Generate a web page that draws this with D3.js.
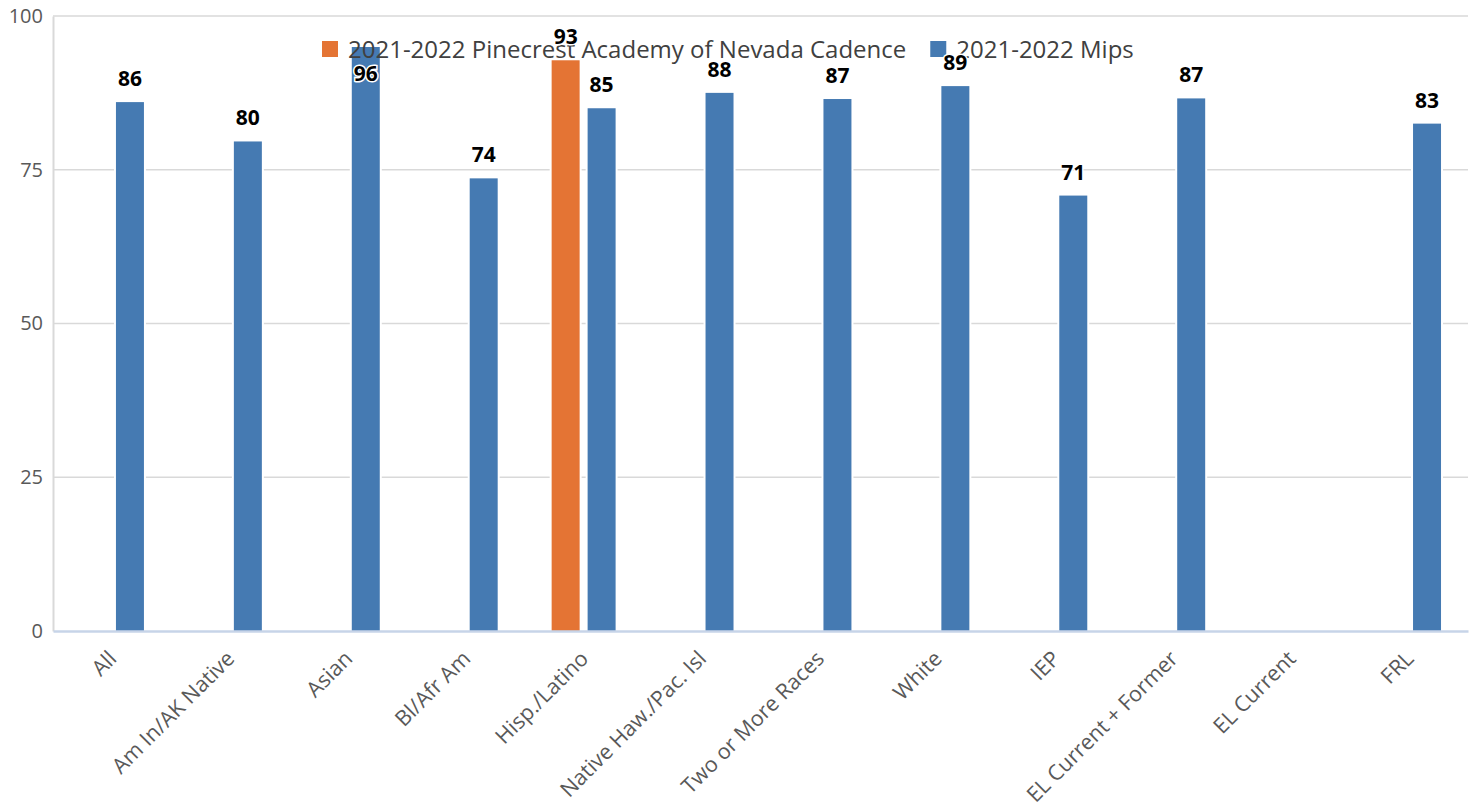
<!DOCTYPE html>
<html>
<head>
<meta charset="utf-8">
<script src="https://cdn.jsdelivr.net/npm/d3@7"></script>
<style>
  body { margin: 0; background: #fff; }
  text { font-family: "Open Sans", "Noto Sans", sans-serif; }
</style>
</head>
<body>
<div id="chart"></div>
<script>
var categories = [
  "All", "Am In/AK Native", "Asian", "Bl/Afr Am", "Hisp./Latino",
  "Native Haw./Pac. Isl", "Two or More Races", "White", "IEP",
  "EL Current + Former", "EL Current", "FRL"
];
var seriesNames = ["2021-2022 Pinecrest Academy of Nevada Cadence", "2021-2022 Mips"];
var pinecrest = [null, null, null, null, 92.8, null, null, null, null, null, null, null];
var mips = [86.0, 79.6, 95.8, 73.6, 85.0, 87.5, 86.5, 88.6, 70.8, 86.6, null, 82.5];
var yTicks = [0, 25, 50, 75, 100];
var colors = ["#e47434", "#457ab2"];

var W = 1475, H = 811;
var margin = { top: 16, right: 7, bottom: 180, left: 53 };
var width = W - margin.left - margin.right;
var height = H - margin.top - margin.bottom;

var svg = d3.select("#chart").append("svg")
  .attr("width", W)
  .attr("height", H);

var g = svg.append("g")
  .attr("transform", "translate(" + margin.left + "," + margin.top + ")");

var x0 = d3.scaleBand().domain(categories).range([0, width]);
var x1 = d3.scaleBand().domain([0, 1]).range([0, x0.bandwidth()])
  .paddingInner(0.222).paddingOuter(0.75);
var y = d3.scaleLinear().domain([0, 100]).range([height, 0]);

// gridlines
g.append("g")
  .selectAll("line")
  .data(yTicks.filter(d => d > 0))
  .join("line")
  .attr("x1", 0).attr("x2", width)
  .attr("y1", d => y(d)).attr("y2", d => y(d))
  .attr("stroke", "#d9d9d9")
  .attr("stroke-width", 1.5);

// y axis
var yAxis = g.append("g")
  .call(d3.axisLeft(y).tickValues(yTicks).tickSize(0).tickPadding(10));
yAxis.select(".domain").attr("stroke", "#d9d9d9").attr("stroke-width", 2);
yAxis.selectAll("text")
  .attr("font-size", 20)
  .attr("fill", "#595959")
  .style("font-family", "'Open Sans', sans-serif");

// bar data
var bars = [];
categories.forEach(function (c, i) {
  [pinecrest[i], mips[i]].forEach(function (v, s) {
    if (v != null) bars.push({ cat: c, s: s, v: v });
  });
});

var barG = g.append("g");
// white halo behind bars
barG.selectAll("rect.halo")
  .data(bars)
  .join("rect")
  .attr("class", "halo")
  .attr("x", d => x0(d.cat) + x1(d.s) - 2)
  .attr("y", d => y(d.v) - 2)
  .attr("width", x1.bandwidth() + 4)
  .attr("height", d => height - y(d.v) + 2)
  .attr("fill", "#fff");
barG.selectAll("rect.bar")
  .data(bars)
  .join("rect")
  .attr("class", "bar")
  .attr("x", d => x0(d.cat) + x1(d.s))
  .attr("y", d => y(d.v))
  .attr("width", x1.bandwidth())
  .attr("height", d => height - y(d.v))
  .attr("fill", d => colors[d.s]);

// x axis
var xAxis = g.append("g")
  .attr("transform", "translate(0," + height + ")")
  .call(d3.axisBottom(x0).tickSize(0).tickPadding(0));
xAxis.select(".domain").attr("stroke", "#c7d4e8").attr("stroke-width", 2.5);
xAxis.selectAll("text")
  .attr("font-size", 21.5)
  .attr("fill", "#595959")
  .style("font-family", "'Open Sans', sans-serif")
  .attr("text-anchor", "end")
  .attr("dy", null)
  .attr("y", null)
  .attr("transform", "translate(6,29) rotate(-45)");

// data labels (under the legend)
var labels = svg.append("g")
  .attr("transform", "translate(" + margin.left + "," + margin.top + ")");

// legend with white backing
var legend = svg.append("g").attr("transform", "translate(322,0)");
var legendBg = legend.append("rect").attr("fill", "#fff");
var lx = 0;
seriesNames.forEach(function (name, i) {
  legend.append("rect")
    .attr("x", lx).attr("y", 41)
    .attr("width", 16).attr("height", 16)
    .attr("fill", colors[i]);
  var t = legend.append("text")
    .attr("x", lx + 26).attr("y", 58)
    .attr("font-size", 24)
    .attr("fill", "#404040")
    .text(name);
  lx += 26 + t.node().getComputedTextLength() + 24;
});
legendBg.attr("x", -6).attr("y", 30).attr("width", lx - 12).attr("height", 17);

labels.selectAll("text")
  .data(bars)
  .join("text")
  .attr("x", d => x0(d.cat) + x1(d.s) + x1.bandwidth() / 2)
  .attr("y", d => d.v >= 95 ? y(d.v) + 39 : y(d.v) - 16)
  .attr("text-anchor", "middle")
  .attr("font-size", 21)
  .attr("font-weight", "bold")
  .attr("fill", "#000")
  .attr("stroke", "#fff")
  .attr("stroke-width", 3)
  .attr("paint-order", "stroke")
  .text(d => Math.round(d.v));
// keep the labels that sit inside bars or high on the chart above the legend text
labels.raise();
</script>
</body>
</html>
